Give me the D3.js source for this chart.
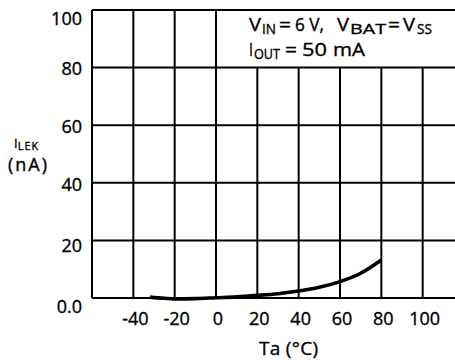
<!DOCTYPE html>
<html><head><meta charset="utf-8">
<script src="https://cdn.jsdelivr.net/npm/d3@7"></script>
<style>body{margin:0;background:#fff}svg{display:block}text{font-family:"Open Sans",sans-serif;fill:#000;stroke:#000;stroke-width:0.35px}</style>
</head><body>
<script>
const temps = [-32, -25, -20, -10, 0, 10, 20, 30, 40, 50, 60, 70, 80];
const leak  = [0.3, -0.1, -0.3, -0.2, 0.1, 0.4, 0.9, 1.5, 2.4, 3.7, 5.7, 8.6, 13.2];
const xTicks = [-40, -20, 0, 20, 40, 60, 80, 100];
const yTicks = [0, 20, 40, 60, 80, 100];
const yTickLabels = ["0.0", "20", "40", "60", "80", "100"];

const W = 455, H = 360;
const svg = d3.select("body").append("svg").attr("width", W).attr("height", H);
const x = d3.scaleLinear().domain([-60, 120]).range([92, 464]);
const y = d3.scaleLinear().domain([0, 100]).range([298, 10]);

const g = svg.append("g");
// grid
g.selectAll(".vg").data(xTicks).enter().append("line")
  .attr("x1", d => x(d)).attr("x2", d => x(d)).attr("y1", d => d >= 20 ? y(80) : y(100)).attr("y2", y(0))
  .attr("stroke", "#000").attr("stroke-width", 2);
g.selectAll(".hg").data(yTicks).enter().append("line")
  .attr("x1", x(-60)).attr("x2", W).attr("y1", d => y(d)).attr("y2", d => y(d))
  .attr("stroke", "#000").attr("stroke-width", 2);
g.append("line").attr("x1", x(-60)).attr("x2", x(-60)).attr("y1", y(100)).attr("y2", y(0))
  .attr("stroke", "#000").attr("stroke-width", 2);

// curve
const line = d3.line().x((d, i) => x(temps[i])).y(d => y(d)).curve(d3.curveMonotoneX);
g.append("path").datum(leak).attr("d", line).attr("fill", "none")
  .attr("stroke", "#000").attr("stroke-width", 3.6);

// y tick labels
g.selectAll(".yl").data(yTicks).enter().append("text")
  .attr("x", 82).attr("y", d => y(d) + (d === 0 || d === 100 ? 10 : d === 20 ? 7 : 3))
  .attr("text-anchor", "end").attr("dominant-baseline", "middle")
  .attr("font-size", 18).text((d, i) => yTickLabels[i]);

// x tick labels
g.selectAll(".xl").data(xTicks).enter().append("text")
  .attr("x", d => x(d) + 2).attr("y", 325)
  .attr("text-anchor", "middle").attr("font-size", 18).text(d => d);

// axis titles
svg.append("text").attr("x", 259).attr("y", 355)
  .attr("font-size", 19).attr("textLength", 59).text("Ta (°C)");
const yl = svg.append("text").attr("x", 14).attr("y", 148).attr("font-size", 13);
yl.append("tspan").text("I");
yl.append("tspan").attr("font-size", 11).attr("dy", 2).attr("letter-spacing", 1).text("LEK");
svg.append("text").attr("x", 8).attr("y", 171)
  .attr("font-size", 18).attr("textLength", 39).text("(nA)");

// annotation (text pieces: [string, x, isSub, width])
const ann1 = [["V", 249, false, 12], ["IN", 262, true, 14], ["=", 279, false, 12], ["6 V,", 295, false, 29],
              ["V", 337, false, 12], ["BAT", 350, true, 36], ["=", 388, false, 12], ["V", 403, false, 12], ["SS", 417, true, 15]];
const ann2 = [["I", 249, false, 4], ["OUT", 254, true, 26], ["=", 285, false, 12], ["50", 302, false, 25], ["mA", 333, false, 32]];
function drawAnn(parts, base) {
  svg.selectAll(null).data(parts).enter().append("text")
    .attr("x", d => d[1]).attr("y", d => d[2] ? base + 3 : base)
    .attr("font-size", d => d[2] ? 14 : 19)
    .attr("textLength", d => d[3]).attr("lengthAdjust", "spacingAndGlyphs")
    .text(d => d[0]);
}
drawAnn(ann1, 31);
drawAnn(ann2, 56);
</script>
</body></html>
